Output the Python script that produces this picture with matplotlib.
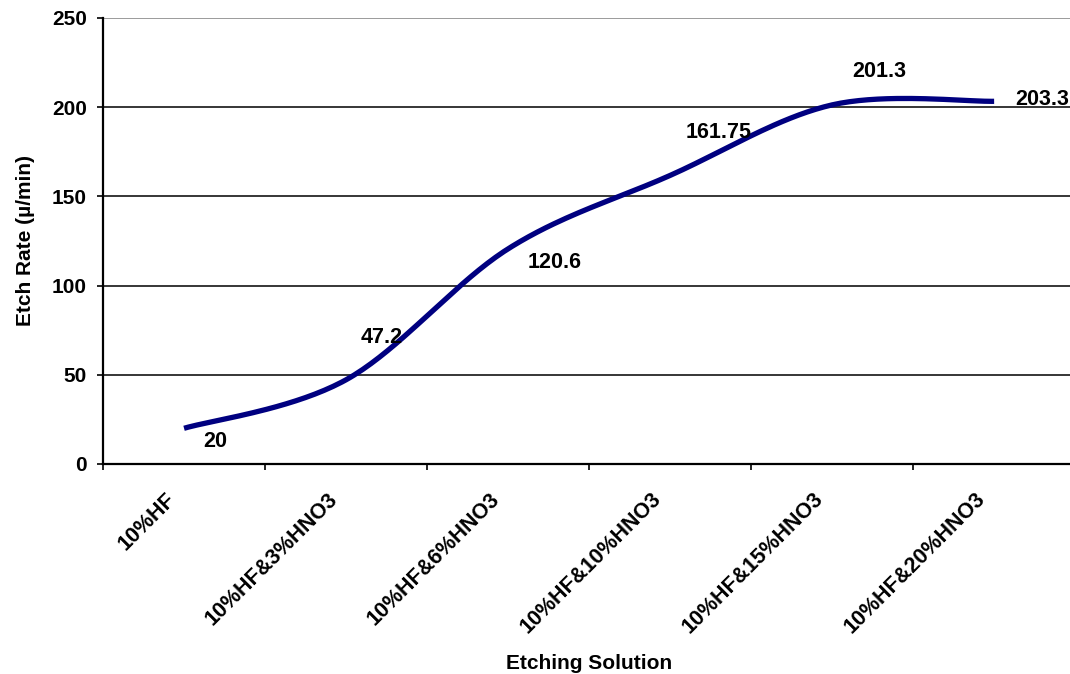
import matplotlib.pyplot as plt
import matplotlib.transforms as mtransforms
import numpy as np

plt.rcParams['font.family'] = ['Liberation Sans', 'DejaVu Sans']
plt.rcParams['font.weight'] = 'bold'

# etch rate for each etching solution
solutions = ["10%HF", "10%HF&3%HNO3", "10%HF&6%HNO3", "10%HF&10%HNO3",
             "10%HF&15%HNO3", "10%HF&20%HNO3"]
etch_rate = [20, 47.2, 120.6, 161.75, 201.3, 203.3]
rate_labels = ["20", "47.2", "120.6", "161.75", "201.3", "203.3"]
# where each value label sits relative to its point (pixels)
label_offsets = [(31, -13), (36, 42), (47, -14), (49, 43), (47, 33), (48, 2)]


def smooth_line(xs, ys, n=40):
    # catmull-rom style smoothing, like the spreadsheet "smoothed line"
    px = np.concatenate(([xs[0]], xs, [xs[-1]]))
    py = np.concatenate(([ys[0]], ys, [ys[-1]]))
    outx, outy = [], []
    for i in range(1, len(px) - 2):
        t = np.linspace(0, 1, n)
        b0x, b3x = px[i], px[i + 1]
        b0y, b3y = py[i], py[i + 1]
        b1x = px[i] + (px[i + 1] - px[i - 1]) / 6
        b1y = py[i] + (py[i + 1] - py[i - 1]) / 6
        b2x = px[i + 1] - (px[i + 2] - px[i]) / 6
        b2y = py[i + 1] - (py[i + 2] - py[i]) / 6
        outx.extend((1 - t) ** 3 * b0x + 3 * (1 - t) ** 2 * t * b1x + 3 * (1 - t) * t ** 2 * b2x + t ** 3 * b3x)
        outy.extend((1 - t) ** 3 * b0y + 3 * (1 - t) ** 2 * t * b1y + 3 * (1 - t) * t ** 2 * b2y + t ** 3 * b3y)
    return outx, outy


x = np.arange(len(solutions))
fig = plt.figure(figsize=(10.7, 6.74), dpi=100)
ax = fig.add_axes([0.0963, 0.3116, 0.9085, 0.6617])

sx, sy = smooth_line(x.astype(float), np.array(etch_rate, dtype=float))
ax.plot(sx, sy, color='#000080', linewidth=3.8, solid_capstyle='butt', zorder=3)

for xi, yi, lab, (dx, dy) in zip(x, etch_rate, rate_labels, label_offsets):
    ax.annotate(lab, (xi, yi), xytext=(dx, dy), textcoords='offset pixels',
                ha='center', va='center', fontsize=15.5, fontweight='bold', zorder=4)

ax.set_xlim(-0.5, len(solutions) - 0.5)
ax.set_ylim(0, 250)
ax.set_yticks(np.arange(0, 251, 50))
ax.tick_params(axis='y', direction='out', length=4.5, width=1.2, pad=7, labelsize=15)

# tick marks between categories, labels at category centres
ax.set_xticks(np.arange(-0.5, len(solutions), 1.0))
ax.set_xticklabels([])
ax.tick_params(axis='x', which='major', direction='out', length=4.5, width=1.2)
ax.set_xticks(x, minor=True)
ax.set_xticklabels(solutions, minor=True, rotation=45, ha='right', va='center',
                   rotation_mode='anchor', fontsize=15.5)
ax.tick_params(axis='x', which='minor', length=0, pad=23)
shift = mtransforms.ScaledTranslation(-12 / 100, 0, fig.dpi_scale_trans)
for lbl in ax.get_xticklabels(minor=True):
    lbl.set_transform(lbl.get_transform() + shift)

ax.yaxis.grid(True, color='black', linewidth=1.1)
ax.get_ygridlines()[-1].set_color('#808080')
ax.set_axisbelow(True)

for side in ['top', 'right']:
    ax.spines[side].set_visible(False)
for side in ['left', 'bottom']:
    ax.spines[side].set_linewidth(1.6)

ax.set_ylabel("Etch Rate (\u00b5/min)", fontsize=15, fontweight='bold', labelpad=12)
ax.set_xlabel("Etching Solution", fontsize=15, fontweight='bold')
ax.xaxis.set_label_coords(0.5, -0.425)

fig.savefig('out.png', dpi=100)
